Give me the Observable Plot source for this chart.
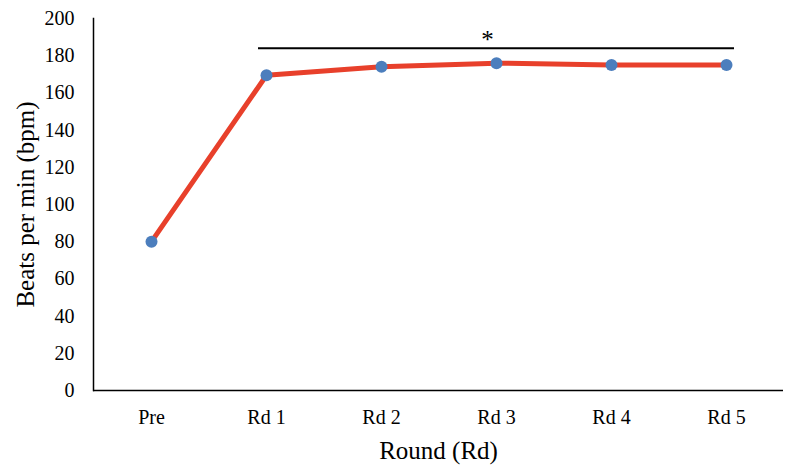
<!DOCTYPE html>
<html>
<head>
<meta charset="utf-8">
<script src="https://cdn.jsdelivr.net/npm/d3@7"></script>
<script src="https://cdn.jsdelivr.net/npm/@observablehq/plot@0.6"></script>
<style>
  html, body { margin: 0; padding: 0; background: #fff; }
  #chart { width: 793px; height: 473px; }
  svg { font-family: "Liberation Serif", "DejaVu Serif", serif; }
</style>
</head>
<body>
<div id="chart"></div>
<script>
const rounds = ["Pre", "Rd 1", "Rd 2", "Rd 3", "Rd 4", "Rd 5"];
const bpm = [80, 169.5, 174, 176, 175, 175];
const yTicks = [0, 20, 40, 60, 80, 100, 120, 140, 160, 180, 200];
const sigFrom = "Rd 1";
const sigTo = "Rd 5";
const sigLevel = 184;
const sigMark = "*";
const sigLabelAt = "Rd 3";
const sigLabelLevel = 188.5;

const data = rounds.map((r, i) => ({round: r, bpm: bpm[i]}));
const font = "'Liberation Serif', 'DejaVu Serif', serif";

const chart = Plot.plot({
  width: 793,
  height: 473,
  marginLeft: 93,
  marginRight: 10,
  marginTop: 18,
  marginBottom: 83,
  style: {fontFamily: font, color: "#000", background: "#fff"},
  x: {type: "point", domain: rounds, padding: 0.5, axis: null},
  y: {domain: [0, 200], axis: null},
  marks: [
    // y tick labels
    Plot.text(yTicks, {y: d => d, frameAnchor: "left", textAnchor: "end", lineAnchor: "middle", dx: -19, text: d => String(d), fontSize: 20, fill: "#000", fontFamily: font}),
    // x tick labels
    Plot.text(rounds, {x: d => d, frameAnchor: "bottom", lineAnchor: "middle", textAnchor: "middle", dy: 27, text: d => d, fontSize: 20, fill: "#000", fontFamily: font}),
    // axis lines
    Plot.ruleY([0], {stroke: "#000", strokeWidth: 1.5}),
    Plot.frame({anchor: "left", stroke: "#000", strokeWidth: 1.5}),
    // significance bracket
    Plot.ruleY([sigLevel], {x1: () => sigFrom, x2: () => sigTo, stroke: "#000", strokeWidth: 2, insetLeft: -8, insetRight: -8}),
    Plot.text([sigMark], {x: () => sigLabelAt, y: () => sigLabelLevel, text: d => d, fontSize: 25, dx: -9, lineAnchor: "middle", fill: "#000", fontFamily: font}),
    // data
    Plot.line(data, {x: "round", y: "bpm", stroke: "#E8402B", strokeWidth: 5}),
    Plot.dot(data, {x: "round", y: "bpm", r: 6, fill: "#4C7EBD", stroke: "none"}),
    // axis titles
    Plot.text(["Round (Rd)"], {frameAnchor: "bottom", lineAnchor: "middle", textAnchor: "middle", text: d => d, dy: 60, fontSize: 25, fill: "#000", fontFamily: font}),
    Plot.text(["Beats per min (bpm)"], {frameAnchor: "left", textAnchor: "middle", lineAnchor: "middle", text: d => d, rotate: -90, dx: -68, fontSize: 25, fill: "#000", fontFamily: font})
  ]
});
document.getElementById("chart").appendChild(chart);
</script>
</body>
</html>
